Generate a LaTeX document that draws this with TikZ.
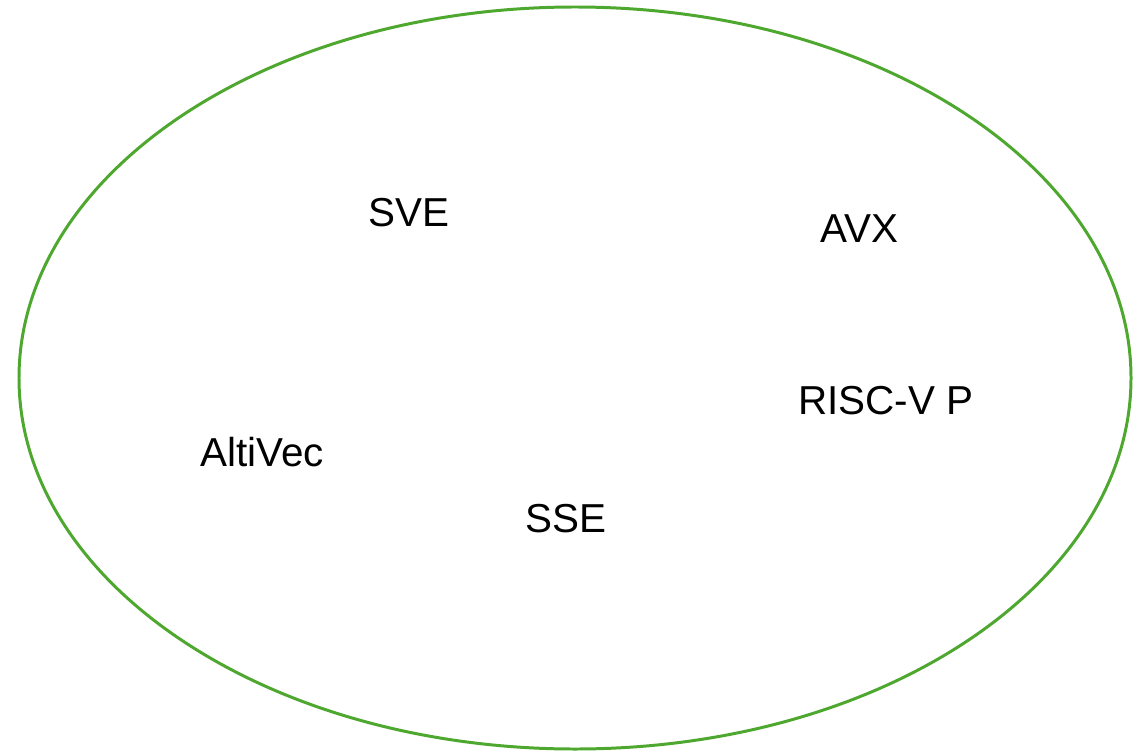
\documentclass[tikz,border=0pt]{standalone}
\usepackage{fontspec}
\setmainfont{Liberation Sans}
\usepackage{tikz}
\definecolor{setgreen}{HTML}{4EA72E}
\tikzset{
  member/.style={font=\fontsize{23}{27}\selectfont, inner sep=0pt}
}

\begin{document}
\begin{tikzpicture}[x=0.02cm, y=0.02cm]
			%%%%% START %%%%%
			\useasboundingbox (0, 0) rectangle (1145, 752);
			
			\draw[line width=1.7pt, color=setgreen] (575, 374) ellipse (556 and 371);
			
			\node[member] (sve) at (409, 539) {SVE};
			\node[member] (avx) at (859, 523) {AVX};
			\node[member] (riscv) at (886, 351) {RISC-V P};
			\node[member] (altivec) at (262, 300) {AltiVec};
			\node[member] (sse) at (566, 233) {SSE};
			%%%%% END %%%%%
		\end{tikzpicture}
\end{document}
